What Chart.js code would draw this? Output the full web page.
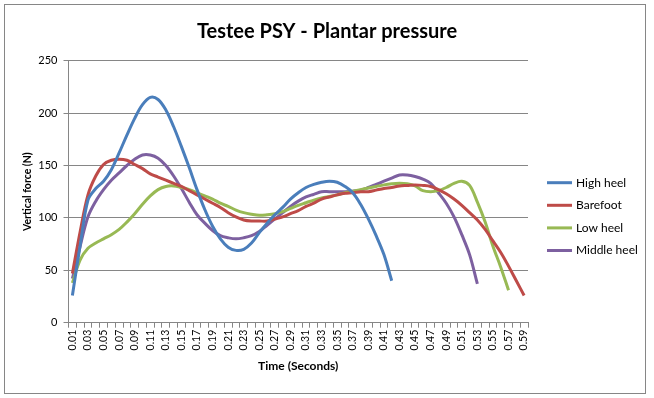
<!DOCTYPE html>
<html><head><meta charset="utf-8">
<script src="https://cdn.jsdelivr.net/npm/chart.js@4.4.1/dist/chart.umd.min.js"></script>
<style>html,body{margin:0;padding:0;background:#fff}#wrap{width:654px;height:398px;position:relative}</style>
</head><body><div id="wrap"><canvas id="c" width="654" height="398"></canvas></div>
<script>
const categories = ['0.01','0.02','0.03','0.04','0.05','0.06','0.07','0.08','0.09','0.10',
  '0.11','0.12','0.13','0.14','0.15','0.16','0.17','0.18','0.19','0.20',
  '0.21','0.22','0.23','0.24','0.25','0.26','0.27','0.28','0.29','0.30',
  '0.31','0.32','0.33','0.34','0.35','0.36','0.37','0.38','0.39','0.40',
  '0.41','0.42','0.43','0.44','0.45','0.46','0.47','0.48','0.49','0.50',
  '0.51','0.52','0.53','0.54','0.55','0.56','0.57','0.58','0.59'];

const highHeel = [26,74,117,128,135,146,162,179,195,208,215,213,203,187,168,148,127,108,92,80,
  72,69,70,76,86,95,103,110,118,124,129,132,134,135,134,130,124,113,99,83,65,40];

const barefoot = [47,87,122,140,151,155,156,155,151,147,142,139,136,133,130,126,122,118,114,110,
  105,101,98,97,97,97,99,101,104,107,111,114,118,120,122,123.5,124,125,125,126.5,
  128,129,130.5,131,131.5,131,130,127,123,118,112,105,98,89,78,67,54,40,26];

const lowHeel = [38,60,71,76,80,84,89,96,104,113,121,127,130,130.5,129,127,124,121,118,114,
  111,107.5,105,103.5,102.5,103,104,106,109,112,114.5,117,119,120.5,122,124,125.5,127,128.5,130,
  131.5,132.5,133,132.5,130.5,126,125,126,129,133,135,131,115,96,73,53,31];

const middleHeel = [42,73,101,116,127,136,143,150,156,160,160,157,150,140,128,115,103,95,88,83,
  81,80,81,83,87,93,99,105,111,116,120,122.5,125,125,125,125,125.5,126.5,129,132,
  135,138,141,141,139.5,137,133,124,114,101,84,65,37];

const seriesNames = ['High heel','Barefoot','Low heel','Middle heel'];
const seriesColors = ['#4A7EBB','#BE4B48','#98B954','#7D60A0'];
const yTicks = [0,50,100,150,200,250];

const FONT = 'Lato, "DejaVu Sans", sans-serif';
const GRID = '#868686';

const framePlugin = {
  id: 'frame',
  beforeDraw(chart) {
    const ctx = chart.ctx;
    ctx.save();
    ctx.fillStyle = '#fff';
    ctx.fillRect(0, 0, chart.width, chart.height);
    ctx.strokeStyle = GRID;
    ctx.lineWidth = 1;
    ctx.strokeRect(4.5, 4.5, 641, 389);
    ctx.restore();
  }
};

const sideLegend = {
  id: 'sideLegend',
  afterDraw(chart) {
    const ctx = chart.ctx;
    ctx.save();
    ctx.font = '12px ' + FONT;
    ctx.textBaseline = 'middle';
    ctx.textAlign = 'left';
    chart.data.datasets.forEach((ds, i) => {
      const y = 182.7 + i * 22.6;
      ctx.strokeStyle = ds.borderColor;
      ctx.lineWidth = 3;
      ctx.beginPath();
      ctx.moveTo(547, y);
      ctx.lineTo(572, y);
      ctx.stroke();
      ctx.fillStyle = '#000';
      ctx.fillText(ds.label, 576, y);
    });
    ctx.restore();
  }
};

const seriesData = [highHeel, barefoot, lowHeel, middleHeel];

new Chart(document.getElementById('c'), {
  type: 'line',
  data: {
    labels: categories,
    datasets: seriesData.map((d, i) => ({
      label: seriesNames[i],
      data: d,
      borderColor: seriesColors[i],
      backgroundColor: seriesColors[i],
      borderWidth: 3,
      pointRadius: 0,
      tension: 0.35,
      fill: false,
      yAxisID: 'y'
    }))
  },
  options: {
    responsive: false,
    animation: false,
    devicePixelRatio: 1,
    layout: { padding: 0 },
    plugins: {
      legend: { display: false },
      tooltip: { enabled: false },
      title: {
        display: true,
        text: 'Testee PSY - Plantar pressure',
        color: '#000',
        font: { family: FONT, size: 20, weight: 'bold' },
        padding: { top: 20, bottom: 16.7 }
      }
    },
    scales: {
      x: {
        type: 'category',
        offset: true,
        grid: { display: true, drawOnChartArea: false, drawTicks: true, tickLength: 5, offset: true, color: GRID },
        border: { display: true, color: GRID },
        ticks: {
          autoSkip: false, maxRotation: 90, minRotation: 90, padding: 2,
          color: '#000', font: { family: FONT, size: 10.5 },
          callback: (v, i) => (i % 2 === 0 ? categories[i] : '')
        },
        title: {
          display: true, text: 'Time (Seconds)', color: '#000',
          font: { family: FONT, size: 12, weight: 'bold' },
          padding: { top: 0, bottom: 25 }
        },
        afterFit(s) { s.height = 398 - 322.7; }
      },
      y: {
        min: 0, max: 250,
        afterBuildTicks(s) { s.ticks = yTicks.map(v => ({ value: v })); },
        grid: { color: GRID, tickLength: 5, drawTicks: true },
        border: { display: true, color: GRID },
        ticks: { color: '#000', padding: 6, font: { family: FONT, size: 11 } },
        title: {
          display: true, text: 'Vertical force (N)', color: '#000',
          font: { family: FONT, size: 10.5, weight: 'bold' },
          padding: { top: 21, bottom: 0 }
        },
        afterFit(s) { s.width = 68.5; }
      },
      spacer: {
        type: 'linear', position: 'right', display: true,
        grid: { display: false, drawTicks: false },
        border: { display: false },
        ticks: { display: false },
        afterFit(s) { s.width = 654 - 528; }
      }
    }
  },
  plugins: [framePlugin, sideLegend]
});
</script></body></html>
